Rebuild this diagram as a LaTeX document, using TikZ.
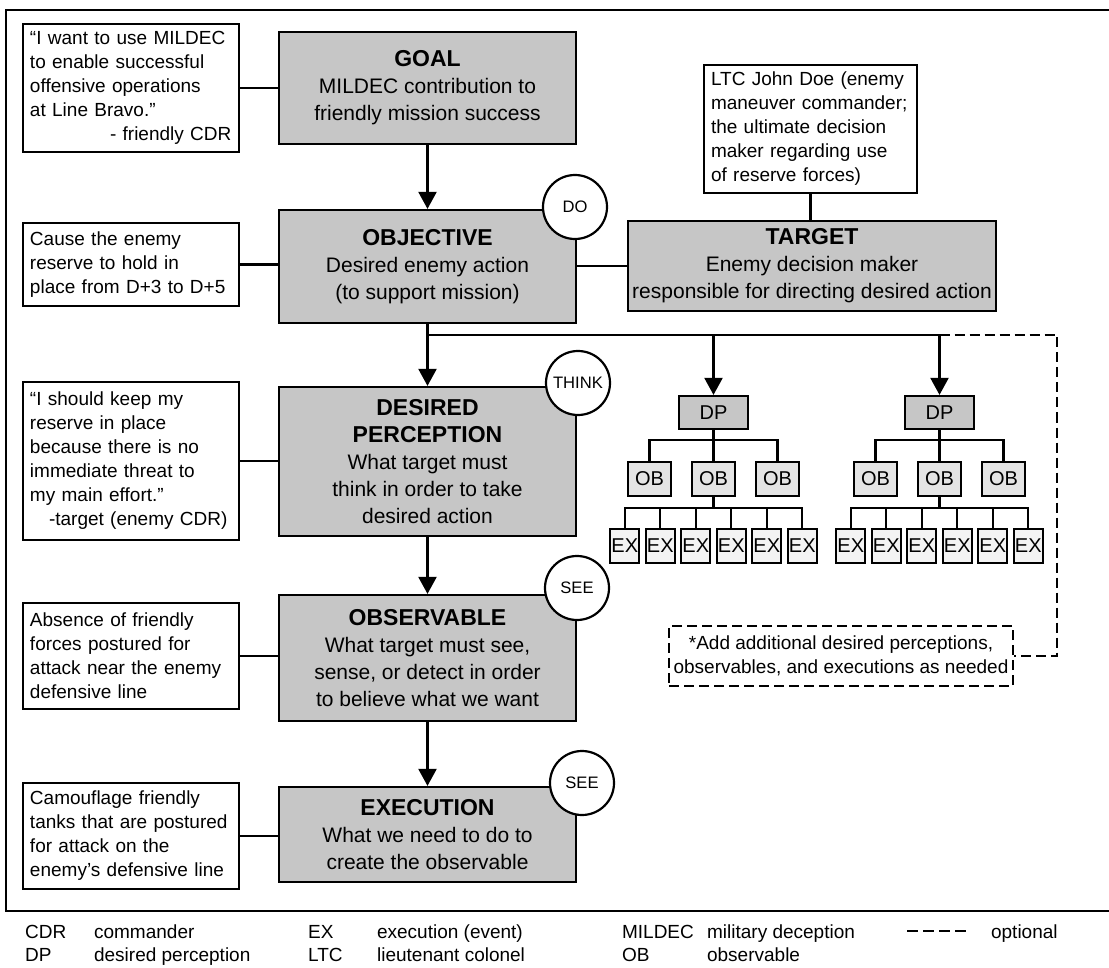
\documentclass[tikz,border=0pt]{standalone}
\usepackage{fontspec}
\setmainfont{Liberation Sans}
\usetikzlibrary{arrows.meta}
\definecolor{boxgray}{RGB}{198,198,198}
\definecolor{obgray}{RGB}{228,228,228}
\definecolor{exgray}{RGB}{243,243,243}
\newcommand{\stagetitle}[1]{{\fontsize{11.5}{13.5}\selectfont\bfseries #1}}

\begin{document}
\begin{tikzpicture}[x=0.5pt,y=-0.5pt,line width=1.1pt,
	every node/.style={font=\fontsize{10.5}{13.5}\selectfont},
	stage/.style={draw,fill=boxgray,align=center,minimum width=148.5pt,inner sep=0pt},
	quote/.style={draw,fill=white,align=left,text width=101pt,inner sep=3.5pt,font=\fontsize{9.5}{12}\selectfont},
	badge/.style={draw,circle,fill=white,minimum size=32pt,inner sep=0pt,font=\fontsize{8.3}{10}\selectfont},
	arr/.style={-{Triangle[width=9pt,length=8.5pt]}},
	optline/.style={dash pattern=on 5pt off 2.5pt},
	dpbox/.style={draw,fill=boxgray,minimum width=34.5pt,minimum height=16.5pt,inner sep=0pt,font=\fontsize{10}{12}\selectfont},
	obbox/.style={draw,fill=obgray,minimum width=21.5pt,minimum height=17pt,inner sep=0pt,font=\fontsize{10}{12}\selectfont},
	exbox/.style={draw,fill=exgray,minimum width=14.5pt,minimum height=17pt,inner sep=0pt,font=\fontsize{10}{12}\selectfont},
	legend/.style={anchor=base west,inner sep=0pt,font=\fontsize{9.5}{12}\selectfont}]
	\useasboundingbox (0,0) rectangle (1109,968);
	\draw[line width=1.4pt] (1109,10) -- (6,10) -- (6,911) -- (1109,911);

	% main column
	\node[stage,minimum height=56pt] (goal) at (427.5,88) {\stagetitle{GOAL}\\MILDEC contribution to\\friendly mission success};
	\node[stage,minimum height=56.5pt] (obj) at (427.5,266.5) {\stagetitle{OBJECTIVE}\\Desired enemy action\\(to support mission)};
	\node[stage,minimum height=74.5pt] (dp) at (427.5,461.5) {\stagetitle{DESIRED}\\\stagetitle{PERCEPTION}\\What target must\\think in order to take\\desired action};
	\node[stage,minimum height=63pt] (obs) at (427.5,658) {\stagetitle{OBSERVABLE}\\What target must see,\\sense, or detect in order\\to believe what we want};
	\node[stage,minimum height=47.5pt] (exec) at (427.5,834.5) {\stagetitle{EXECUTION}\\What we need to do to\\create the observable};
	\draw[arr] (goal) -- (obj);
	\draw[arr] (obj) -- (dp);
	\draw[arr] (dp) -- (obs);
	\draw[arr] (obs) -- (exec);

	\node[badge] (do) at (575,207) {DO};
	\node[badge] (think) at (578,383) {THINK};
	\node[badge] (see1) at (577,588) {SEE};
	\node[badge] (see2) at (582,783) {SEE};

	% examples on the left
	\node[quote,minimum height=64pt] (q1) at (131,88) {“I want to use MILDEC\\to enable successful\\offensive operations\\at Line Bravo.”\\\hspace*{40pt}- friendly CDR};
	\node[quote,minimum height=41.5pt] (q2) at (131,264.5) {Cause the enemy\\reserve to hold in\\place from D+3 to D+5};
	\node[quote,minimum height=79pt] (q3) at (131,461) {“I should keep my\\reserve in place\\because there is no\\immediate threat to\\my main effort.”\\\hspace*{9.5pt}-target (enemy CDR)};
	\node[quote,minimum height=53pt] (q4) at (131,656) {Absence of friendly\\forces postured for\\attack near the enemy\\defensive line};
	\node[quote,minimum height=53pt] (q5) at (131,836) {Camouflage friendly\\tanks that are postured\\for attack on the\\enemy’s defensive line};
	\draw (q1.east) -- (q1.east -| goal.west);
	\draw (q2.east) -- (q2.east -| obj.west);
	\draw (q3.east) -- (q3.east -| dp.west);
	\draw (q4.east) -- (q4.east -| obs.west);
	\draw (q5.east) -- (q5.east -| exec.west);

	% target
	\node[stage,minimum width=184pt,minimum height=45pt] (target) at (812,266) {\stagetitle{TARGET}\\Enemy decision maker\\responsible for directing desired action};
	\node[quote,text width=99.5pt,inner sep=3.5pt,minimum height=64pt] (ltc) at (810.5,129) {LTC John Doe (enemy\\maneuver commander;\\the ultimate decision\\maker regarding use\\of reserve forces)};
	\draw (ltc.south) -- (ltc.south |- target.north);
	\draw (obj.east |- target.west) -- (target.west);

	% perception trees
	\coordinate (split) at (427.5,335);
	\coordinate (optc) at (1057,335);
	\foreach \t/\cx in {1/713.5,2/939.5}{
		\node[dpbox] (dp\t) at (\cx,412.5) {DP};
		\foreach \i/\dx in {1/-64,2/0,3/64}
			\node[obbox] (ob\t\i) at (\cx+\dx,479) {OB};
		\foreach \j/\dx in {1/-88.75,2/-53.25,3/-17.75,4/17.75,5/53.25,6/88.75}
			\node[exbox] (ex\t\j) at (\cx+\dx,546) {EX};
		\draw (dp\t) -- (ob\t2);
		\draw (dp\t.south) -- ++(0,10) -| (ob\t1.north);
		\draw (dp\t.south) -- ++(0,10) -| (ob\t3.north);
		\draw (ob\t2.south) -- ++(0,11) coordinate (exfork\t);
		\foreach \j in {1,...,6}
			\draw (exfork\t) -| (ex\t\j.north);
		\draw[arr] (split -| dp\t) -- (dp\t);
	}
	\draw (split) -- (split -| dp2);

	% optional part
	\node[draw,optline,align=center,minimum width=172pt,minimum height=30pt,inner sep=0pt,font=\fontsize{9.5}{12}\selectfont] (note) at (841,656) {*Add additional desired perceptions,\\observables, and executions as needed};
	\draw[optline] (split -| dp2) -- (optc) |- (note);

	% legend
	\node[legend] (lcdr) at (24,938) {CDR};
	\node[legend] (lcdrt) at (93,938) {commander};
	\node[legend] (ldp) at (24,961) {DP};
	\node[legend] (ldpt) at (93,961) {desired perception};
	\node[legend] (lex) at (307,938) {EX};
	\node[legend] (lext) at (376,938) {execution (event)};
	\node[legend] (lltc) at (307,961) {LTC};
	\node[legend] (lltct) at (376,961) {lieutenant colonel};
	\node[legend] (lmil) at (621,938) {MILDEC};
	\node[legend] (lmilt) at (706,938) {military deception};
	\node[legend] (lob) at (621,961) {OB};
	\node[legend] (lobt) at (706,961) {observable};
	\node[legend] (lopt) at (990,938) {optional};
	\draw[dash pattern=on 5.5pt off 2.5pt] (907,931) -- (967,931);
\end{tikzpicture}
\end{document}
